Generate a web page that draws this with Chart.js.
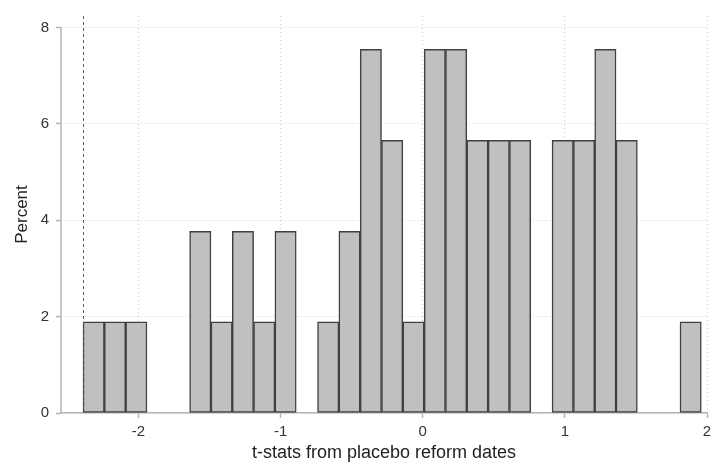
<!DOCTYPE html>
<html>
<head>
<meta charset="utf-8">
<script src="https://cdn.jsdelivr.net/npm/chart.js@4"></script>
<style>
  body { margin: 0; background: #fff; }
  #wrap { width: 712px; height: 468px; }
</style>
</head>
<body>
<div id="wrap"><canvas id="chart" width="712" height="468"></canvas></div>
<script>
// histogram bins (t-stats), 53 placebo dates
const binStart = -2.39;
const binWidth = 0.15;
const percent = [
  1.89, 1.89, 1.89, 0, 0, 3.77, 1.89, 3.77, 1.89, 3.77,
  0, 1.89, 3.77, 7.55, 5.66, 1.89, 7.55, 7.55, 5.66, 5.66,
  5.66, 0, 5.66, 5.66, 7.55, 5.66, 0, 0, 1.89
];
const xTicks = [-2, -1, 0, 1, 2];
const yTicks = [0, 2, 4, 6, 8];
const refLine = -2.39;

const points = percent.map((p, i) => ({ x: binStart + (i + 0.5) * binWidth, y: p }));

const tickFont = { family: "Liberation Sans, Arial, sans-serif", size: 15 };

// y axis line only up to the top tick, plus the dashed reference line
const extras = {
  id: "extras",
  afterDatasetsDraw(chart) {
    const { ctx, scales: { x, y }, chartArea } = chart;
    ctx.save();
    ctx.strokeStyle = "#b4b4b4";
    ctx.lineWidth = 1.5;
    ctx.beginPath();
    ctx.moveTo(x.left, y.getPixelForValue(0));
    ctx.lineTo(x.left, y.getPixelForValue(yTicks[yTicks.length - 1]));
    ctx.stroke();

    const rx = Math.round(x.getPixelForValue(refLine)) + 0.5;
    ctx.strokeStyle = "#5a5a5a";
    ctx.lineWidth = 1;
    ctx.setLineDash([3, 3]);
    ctx.beginPath();
    ctx.moveTo(rx, chartArea.top);
    ctx.lineTo(rx, y.getPixelForValue(0));
    ctx.stroke();
    ctx.restore();
  }
};

const myChart = new Chart(document.getElementById("chart"), {
  type: "bar",
  data: {
    datasets: [{
      data: points,
      backgroundColor: "#c0c0c0",
      borderColor: "#404040",
      borderWidth: (c) => (c.raw && c.raw.y ? 1.5 : 0),
      borderSkipped: false,
      barPercentage: 1,
      categoryPercentage: 1,
      grouped: false
    }]
  },
  options: {
    responsive: false,
    animation: false,
    layout: { padding: { top: 7, right: 0 } },
    plugins: { legend: { display: false }, tooltip: { enabled: false } },
    scales: {
      x: {
        type: "linear",
        min: -2.545,
        max: 2,
        offset: false,
        afterBuildTicks: (s) => { s.ticks = xTicks.map((v) => ({ value: v })); },
        afterFit: (s) => { s.height = 55; s.paddingRight = 5; },
        ticks: { color: "#333", font: tickFont, padding: 5 },
        grid: {
          offset: false,
          color: "#d0d0d0",
          tickColor: "#b4b4b4",
          tickLength: 5,
          tickWidth: 1.5,
          lineWidth: 1
        },
        border: { display: true, color: "#b4b4b4", width: 1.5, dash: [1, 3] },
        title: {
          display: true,
          text: "t-stats from placebo reform dates",
          color: "#222",
          font: { family: "Liberation Sans, Arial, sans-serif", size: 18 },
          padding: { top: 0, bottom: 4 }
        }
      },
      y: {
        min: 0,
        max: 8.24,
        afterBuildTicks: (s) => { s.ticks = yTicks.map((v) => ({ value: v })); },
        afterFit: (s) => { s.width = 61; },
        ticks: { color: "#333", font: tickFont, padding: 7 },
        grid: {
          color: "#d0d0d0",
          tickColor: "#b4b4b4",
          tickLength: 5,
          tickWidth: 1.5,
          lineWidth: 1
        },
        border: { display: false, dash: [1, 3] },
        title: {
          display: true,
          text: "Percent",
          color: "#222",
          font: { family: "Liberation Sans, Arial, sans-serif", size: 17 },
          padding: { top: 12, bottom: 0 }
        }
      }
    }
  },
  plugins: [extras]
});
</script>
</body>
</html>
